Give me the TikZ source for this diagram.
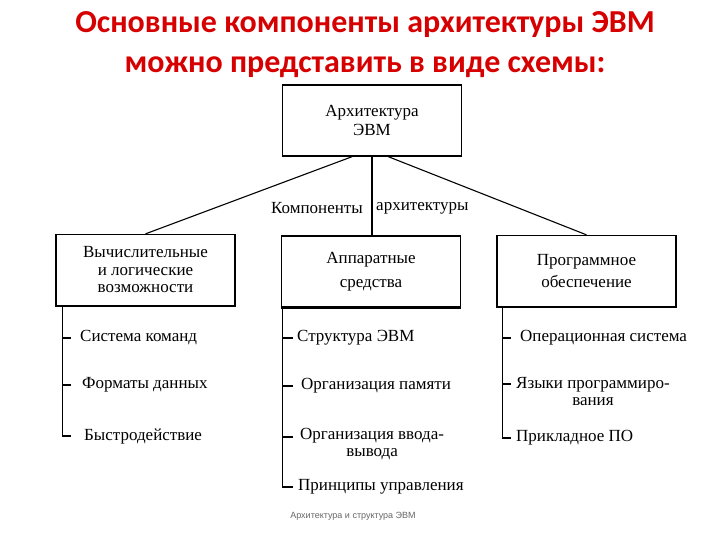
\documentclass[tikz,border=0pt]{standalone}
\usepackage{fontspec}
\setmainfont{Liberation Serif}
\newfontfamily\titlefont{Carlito}
\newfontfamily\footfont{Liberation Sans}
\usetikzlibrary{calc}
\definecolor{titlered}{RGB}{214,0,0}
\tikzset{
  box/.style={draw, line width=1.3pt, minimum width=179pt, minimum height=71pt, align=center, font=\fontsize{17}{17.5}\selectfont, inner sep=0pt},
  item/.style={anchor=west, font=\fontsize{17}{17}\selectfont, inner sep=0pt, align=center},
  conn/.style={line width=1.1pt},
  boxbase/.style={line width=2.4pt},
}
\begin{document}
\begin{tikzpicture}[x=1pt,y=-1pt]
\useasboundingbox (0,0) rectangle (720,540);
% title
\node[font=\titlefont\bfseries\fontsize{32}{40}\selectfont, text=titlered, align=center] (title) at (365,44.5) {Основные компоненты архитектуры ЭВМ\\можно представить в виде схемы:};
% boxes
\node[box] (top) at (372,120.5) {Архитектура\\[2pt]ЭВМ};
\node[box] (lb) at (145.5,270) {Вычислительные\\и логические\\возможности};
\node[box] (mb) at (371,271.5) {Аппаратные\\[7pt]средства};
\node[box] (rb) at (586.5,271) {Программное\\[5pt]обеспечение};
\draw[boxbase] (lb.south west) -- (lb.south east);
\draw[boxbase] (mb.south west) -- (mb.south east);
\draw[boxbase] (rb.south west) -- (rb.south east);
% connector label
\node[font=\fontsize{17}{18}\selectfont, anchor=east, inner sep=0pt] (k1) at (363,208) {Компоненты};
\node[font=\fontsize{17}{18}\selectfont, anchor=west, inner sep=0pt] (k2) at (376,208) {архитектуры};
% connectors from top
\draw[conn] ($(top.south west)!0.39!(top.south east)$) -- (lb.north);
\draw[conn] ($(top.south west)!0.59!(top.south east)$) -- (rb.north);
\draw[conn] (top.south) -- (mb.north -| top.south);
% left list
\node[item] (l1) at (80,338) {Система команд};
\node[item] (l2) at (82,385) {Форматы данных};
\node[item] (l3) at (84,436) {Быстродействие};
\coordinate (ls) at ($(lb.south west)+(7,0)$);
\draw[conn] (ls) -- (ls |- l3) -- ++(9,0);
\draw[conn] (ls |- l1) -- ++(9,0);
\draw[conn] (ls |- l2) -- ++(9,0);
% middle list
\node[item] (m1) at (297,338) {Структура ЭВМ};
\node[item] (m2) at (301,386) {Организация памяти};
\node[item] (m3) at (300,444) {Организация ввода-\\вывода};
\node[item] (m4) at (298,487) {Принципы управления};
\coordinate (ms) at ($(mb.south west)+(2,0)$);
\draw[conn] (ms) -- (ms |- m4) -- ++(10,0);
\draw[conn] (ms |- m1) -- ++(10,0);
\draw[conn] (ms |- m2) -- ++(10,0);
\draw[conn] ($(ms |- m3)+(0,-7)$) -- ++(10,0);
% right list
\node[item] (r1) at (520,338) {Операционная система};
\node[item] (r2) at (516,392) {Языки программиро-\\вания};
\node[item] (r3) at (516,438) {Прикладное ПО};
\coordinate (rs) at ($(rb.south west)+(6,0)$);
\draw[conn] (rs) -- (rs |- r3) -- ++(9,0);
\draw[conn] (rs |- r1) -- ++(9,0);
\draw[conn] ($(rs |- r2)+(0,-8)$) -- ++(9,0);
% footer
\node[font=\footfont\fontsize{9}{11}\selectfont, text=black!60] (foot) at (353,516) {Архитектура и структура ЭВМ};
\end{tikzpicture}
\end{document}
